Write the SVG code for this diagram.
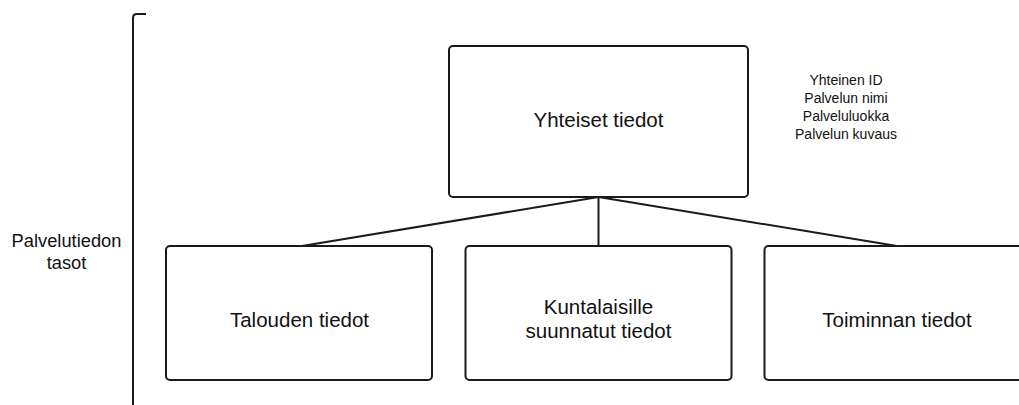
<svg xmlns="http://www.w3.org/2000/svg" width="1019" height="405" viewBox="0 0 1019 405">
  <style>
    .box { fill: #ffffff; stroke: #1a1a1a; stroke-width: 2; }
    .edge { fill: none; stroke: #1a1a1a; stroke-width: 2; }
    .lbl { font-family: "Liberation Sans", Arial, sans-serif; fill: #111111; text-anchor: middle; }
    .big { font-size: 20.5px; }
    .small { font-size: 14px; }
    .side { font-size: 18.3px; }
  </style>
  <rect width="1019" height="405" fill="#ffffff"/>

  <!-- left bracket -->
  <g id="bracket">
    <path class="edge" d="M133 405 V18 Q133 14 137 14 H146"/>
  </g>

  <g id="connectors">
    <line class="edge" x1="598.5" y1="197" x2="302" y2="246"/>
    <line class="edge" x1="598.5" y1="197" x2="598.5" y2="246"/>
    <line class="edge" x1="598.5" y1="197" x2="897" y2="246"/>
  </g>

  <g id="node-side-label">
    <text class="lbl side" x="66.5" y="247">Palvelutiedon</text>
    <text class="lbl side" x="66.5" y="269">tasot</text>
  </g>

  <g id="node-common">
    <rect class="box" x="449" y="46" width="299" height="151" rx="4"/>
    <text class="lbl big" x="598.5" y="127">Yhteiset tiedot</text>
  </g>

  <g id="node-attributes">
    <text class="lbl small" x="846" y="85">Yhteinen ID</text>
    <text class="lbl small" x="846" y="103">Palvelun nimi</text>
    <text class="lbl small" x="846" y="121">Palveluluokka</text>
    <text class="lbl small" x="846" y="139">Palvelun kuvaus</text>
  </g>

  <g id="node-finance">
    <rect class="box" x="166" y="246" width="266" height="134" rx="4"/>
    <text class="lbl big" x="299.5" y="327">Talouden tiedot</text>
  </g>

  <g id="node-citizens">
    <rect class="box" x="465.5" y="246" width="266" height="134" rx="4"/>
    <text class="lbl big" x="598.5" y="314">Kuntalaisille</text>
    <text class="lbl big" x="598.5" y="338">suunnatut tiedot</text>
  </g>

  <g id="node-operations">
    <rect class="box" x="764.5" y="246" width="266" height="134" rx="4"/>
    <text class="lbl big" x="897" y="327">Toiminnan tiedot</text>
  </g>
</svg>
